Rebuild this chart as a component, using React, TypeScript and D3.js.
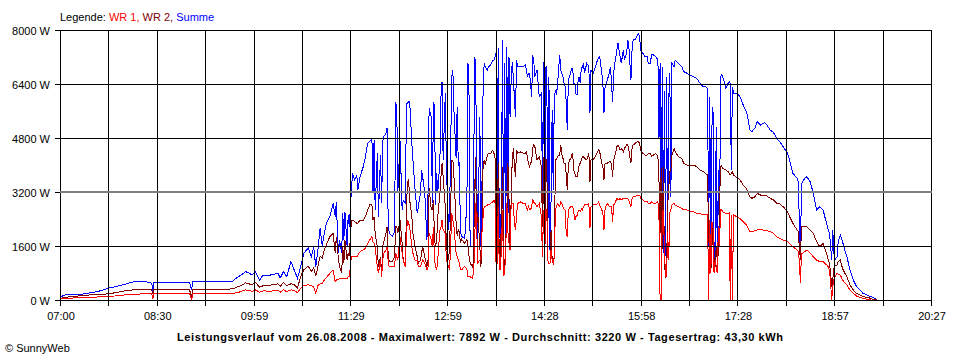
import React from 'react';
import * as d3 from 'd3';

// ---- data ----
const times: string[] = [
  "07:00","07:05","07:20","07:35","07:45","08:00","08:10","08:20","08:25","08:26",
  "08:27","08:45","09:00","09:02","09:03","09:30","09:40","09:45","09:48","09:52",
  "09:55","09:58","10:01","10:05","10:08","10:15","10:22","10:24","10:27","10:30",
  "10:34","10:37","10:40","10:43","10:46","10:50","10:53","10:55","10:57","10:59",
  "11:01","11:03","11:05","11:07","11:10","11:13","11:15","11:16","11:17","11:18",
  "11:19","11:21","11:22","11:23","11:24","11:26","11:27","11:28","11:30","11:31",
  "11:33","11:35","11:36","11:38","11:41","11:43","11:45","11:47","11:49","11:50",
  "11:51","11:52","11:54","11:55","11:57","11:58","11:59","12:00","12:02","12:03",
  "12:04","12:05","12:08","12:10","12:11","12:12","12:13","12:15","12:17","12:18",
  "12:20","12:21","12:22","12:23","12:24","12:26","12:27","12:29","12:31","12:32",
  "12:34","12:35","12:36","12:38","12:40","12:41","12:42","12:44","12:45","12:46",
  "12:47","12:48","12:49","12:50","12:52","12:53","12:54","12:55","12:57","12:58",
  "13:00","13:01","13:03","13:04","13:05","13:07","13:08","13:09","13:10","13:11",
  "13:12","13:15","13:17","13:18","13:19","13:20","13:22","13:23","13:24","13:25",
  "13:26","13:27","13:29","13:30","13:31","13:32","13:33","13:34","13:36","13:37",
  "13:39","13:41","13:42","13:43","13:44","13:45","13:46","13:47","13:48","13:49",
  "13:50","13:51","13:52","13:53","13:54","13:55","13:56","13:57","13:58","13:59",
  "14:00","14:01","14:02","14:03","14:04","14:07","14:09","14:11","14:12","14:13",
  "14:14","14:15","14:16","14:17","14:18","14:19","14:20","14:22","14:24","14:26",
  "14:27","14:28","14:29","14:30","14:31","14:32","14:33","14:34","14:35","14:36",
  "14:37","14:38","14:39","14:40","14:41","14:43","14:44","14:45","14:46","14:47",
  "14:48","14:49","14:50","14:51","14:52","14:53","14:54","14:55","14:56","14:57",
  "14:58","14:59","15:00","15:01","15:02","15:03","15:04","15:05","15:06","15:08",
  "15:10","15:11","15:12","15:14","15:16","15:18","15:19","15:20","15:22","15:23",
  "15:24","15:25","15:27","15:29","15:30","15:31","15:32","15:33","15:34","15:36",
  "15:37","15:39","15:40","15:42","15:43","15:45","15:46","15:47","15:49","15:50",
  "15:51","15:53","15:55","15:56","15:57","15:58","16:00","16:02","16:04","16:05",
  "16:07","16:08","16:10","16:12","16:14","16:15","16:16","16:17","16:18","16:19",
  "16:20","16:21","16:22","16:23","16:24","16:25","16:26","16:27","16:29","16:30",
  "16:33","16:36","16:38","16:41","16:44","16:47","16:50","16:53","16:56","16:58",
  "17:00","17:01","17:02","17:03","17:04","17:05","17:06","17:07","17:08","17:09",
  "17:10","17:11","17:12","17:13","17:14","17:17","17:19","17:20","17:21","17:22",
  "17:23","17:24","17:27","17:30","17:33","17:36","17:38","17:39","17:41","17:44",
  "17:46","17:49","17:51","17:53","17:55","17:58","18:01","18:04","18:07","18:10",
  "18:14","18:16","18:19","18:23","18:24","18:25","18:26","18:27","18:28","18:30",
  "18:32","18:35","18:38","18:41","18:44","18:47","18:50","18:51","18:53","18:54",
  "18:55","18:56","18:57","18:58","19:00","19:01","19:03","19:05","19:07","19:09",
  "19:12","19:15","19:18","19:21","19:24","19:28","19:31","19:33","19:37"
];

// WR 1 (red)
const wr1: number[] = [
  30,50,70,90,100,150,170,190,200,20,
  180,180,180,20,190,200,200,220,260,300,
  280,260,300,230,270,260,290,230,300,250,
  300,280,220,350,430,450,420,400,210,430,
  480,500,600,670,790,889,543,593,593,593,
  640,640,640,640,640,640,691,691,1284,1284,
  1284,1284,1330,1432,1481,1530,1679,1778,1877,1728,
  1679,1580,988,790,1185,691,1185,1383,1481,1580,
  1185,988,988,988,1383,1284,1185,1877,1383,1185,
  988,1975,2370,2272,2173,1580,1383,1185,1185,988,
  988,1086,1185,1086,889,988,1975,1778,1580,2173,
  1185,988,889,1185,2074,2173,2370,2074,1975,1185,
  988,889,2568,2370,2173,1400,1300,1200,1100,890,
  890,1000,900,690,690,690,640,800,1300,2860,
  2200,1100,1180,1200,2000,2470,2765,2765,2815,2815,
  2860,2910,2960,2960,1100,1090,2770,890,890,1500,
  2670,700,800,1500,2860,2000,1680,1480,2860,2860,
  2860,2300,2070,2500,2860,2910,2860,2860,2760,2670,
  2770,2670,2670,2770,2960,2900,2860,2770,2860,2470,
  1280,2670,1090,2670,2670,1180,1090,1090,1480,1180,
  1090,1280,2670,2770,2860,2770,2910,2860,2770,2700,
  2670,2000,1875,2670,2700,2770,2770,2770,2600,2370,
  2470,2500,2600,2670,2620,2700,2670,2770,2815,2815,
  2860,2120,2765,2815,2815,2860,2910,2815,2670,2570,
  2074,2700,2865,2765,2765,2765,2320,2815,2860,3012,
  2960,3012,2963,3012,3012,3012,3012,2960,2765,3012,
  3062,3062,3111,3111,3111,3012,2963,2914,2914,2864,
  2864,2914,2864,2864,2914,2370,0,0,2600,2667,
  1500,700,691,2000,1185,2600,2667,2815,2864,2815,
  2765,2716,2667,2667,2617,2617,2568,2568,2519,2519,
  2519,0,2370,790,2321,2173,790,1185,988,790,
  2173,1580,2667,2667,2617,2568,2545,2568,0,2519,
  0,2519,2469,2420,2321,2222,2100,2025,2025,2050,
  2074,2094,2074,2074,2050,2025,1975,1877,1827,1778,
  1728,1679,1580,1481,1432,1185,494,1383,1383,1432,
  1481,1383,1284,1185,1136,1136,1050,1037,889,494,
  0,395,593,691,790,760,741,593,520,444,
  296,198,119,79,49,20,0,0,0
];

// WR 2 (dark red)
const wr2: number[] = [
  50,80,130,170,180,270,310,310,300,200,
  300,300,300,100,310,310,330,400,430,510,
  480,450,520,380,420,440,480,400,520,430,
  480,450,350,700,900,1000,850,950,700,1000,
  1300,1250,1500,1650,1877,1975,1383,1877,1580,1185,
  988,790,1580,1086,1778,1185,1383,1300,2370,2370,
  2320,2272,2272,2370,2370,2469,2667,2815,2815,2370,
  2469,1975,1580,988,1284,790,1580,1728,1975,2173,
  1383,1136,1136,1284,2173,2173,1975,2370,1679,1185,
  988,2765,3506,3556,2963,2469,1975,1580,1284,1086,
  1185,1383,1580,1284,988,1185,3308,2667,2667,2963,
  1778,1580,1778,2469,3160,3654,4049,3654,2765,1580,
  1185,1580,4148,4148,3654,2300,1900,2100,2000,1680,
  1800,1680,1800,1600,1300,1100,990,1100,2870,4250,
  2100,2600,1580,990,2100,4000,4150,4000,4300,4350,
  4350,4440,4350,4350,1280,1180,4050,1090,1090,2500,
  3950,1280,890,1900,2070,4050,3000,1480,3000,4150,
  4490,4000,3650,4440,4350,4390,4350,4350,4390,4250,
  4050,3950,4050,4100,4500,4590,4540,4150,4250,3950,
  2170,4250,1180,4150,4150,1180,1090,1090,2070,1180,
  1190,1280,4150,4150,4250,4300,4590,4300,4200,4050,
  4050,3750,3250,4000,4150,4150,4300,4340,3850,3750,
  3650,3650,3800,4000,4050,4150,4250,4250,4200,4150,
  4350,3500,4150,4150,4250,4400,4450,4400,4050,3950,
  3556,4050,4050,4100,4100,4000,3650,4150,4250,4544,
  4593,4444,4494,4395,4494,4593,4593,4444,4049,4494,
  4593,4642,4692,4692,4642,4444,4346,4296,4296,4346,
  4346,4247,4296,4346,4247,3506,2000,3900,1500,3951,
  1200,650,889,2800,3300,3800,3852,4300,4494,4395,
  4247,4198,4049,4000,4000,4000,3951,3852,3802,3753,
  3704,1680,2370,790,1580,2173,1185,988,1580,1185,
  1383,2765,3951,3970,3901,3852,3803,3753,3704,3753,
  3803,3704,3634,3556,3407,3308,3150,3062,3012,3062,
  3160,3111,3111,3111,3080,3012,2964,2864,2844,2765,
  2617,2469,2272,2074,2025,1580,1185,2173,2173,2173,
  2173,2074,1975,1728,1580,1679,1400,1284,1086,790,
  395,600,938,1037,1037,1136,1185,938,800,691,
  444,296,198,148,99,79,49,20,0
];

// Summe (blue)
const summe: number[] = [
  90,150,170,250,350,460,560,540,500,275,
  520,525,525,296,540,540,560,690,740,840,
  800,740,840,590,740,740,790,650,840,690,
  1135,890,650,985,1390,1540,1280,1580,985,1480,
  2130,1600,2000,2290,2469,2864,2469,2914,2074,1383,
  1778,1383,2568,1778,2617,1580,2519,2173,3259,3753,
  3556,3704,3259,3654,3951,4247,4642,4691,4790,3160,
  4741,2667,4346,2469,4296,2864,4691,4840,4938,5087,
  2469,1975,1877,2025,5827,5778,3160,4741,2667,2963,
  2864,5827,5827,5876,5876,4642,4148,3259,2568,2765,
  3160,3852,3654,3160,1778,3160,5679,5432,2864,5876,
  5728,2815,3753,3160,4148,6025,6469,4148,6124,3951,
  2074,2667,6617,6815,5630,4200,5730,4000,4060,2070,
  1880,1830,2870,7010,6025,1580,1580,1580,7160,7110,
  4050,1580,5430,1580,3500,6220,7010,6900,6815,6900,
  6960,7110,7110,7200,7310,2070,7460,2000,1780,3000,
  7700,1680,7010,1680,7500,2100,7210,5430,6500,7060,
  6620,6000,5430,7110,6910,6910,6910,6960,6860,6620,
  6700,6720,6400,6025,7260,7060,6620,6815,6025,6120,
  3260,7060,1690,6900,6910,1680,6620,1480,3000,5630,
  3260,6000,6220,6074,6400,7260,6800,6700,6618,6420,
  6321,5900,5040,6519,6618,6716,6864,6864,6420,6420,
  6100,6074,6470,6618,6420,6864,6900,7013,6716,7013,
  6914,5530,6815,6716,6914,7111,7161,7210,6716,6420,
  5530,6321,6519,6716,6914,6420,5876,6716,7013,7408,
  7605,7210,7013,7408,7111,7309,7704,7556,6519,7408,
  7704,7704,7852,7892,7803,7408,7309,7210,7210,7013,
  7013,7260,7260,7210,7111,4800,7013,1500,6900,1400,
  6200,1300,6618,1500,5900,6716,3060,7013,6914,7111,
  7013,6914,6766,6716,6667,6618,6568,6420,6321,6321,
  6272,1580,6025,988,5136,5728,1580,1185,5136,1086,
  3852,1580,6617,6667,6617,6272,6420,6469,6420,3852,
  6321,6124,6124,6025,5778,5580,5300,5037,4988,5100,
  5284,5185,5235,5254,5185,5037,4964,4790,4691,4543,
  4346,4148,3753,3605,3506,2370,1284,3407,3506,3605,
  3654,3506,3160,2667,2765,2667,2300,2173,1975,1580,
  1185,2074,1383,1185,1284,1728,1926,1728,1500,1284,
  889,593,395,296,198,148,99,79,20
];

const seriesNames = ["WR 1", "WR 2", "Summe"];
const seriesColors = ["#ff0000", "#800000", "#0000ff"];
const yTicks = [0, 1600, 3200, 4800, 6400, 8000];
const xTickLabels = ["07:00","08:30","09:59","11:29","12:59","14:28","15:58","17:28","18:57","20:27"];
const xStart = "07:00";
const xEnd = "20:27";
const yMax = 8000;
const averageValue = 3220;
const legendTitle = "Legende:";
const chartTitle = "Leistungsverlauf vom 26.08.2008 - Maximalwert: 7892 W - Durchschnitt: 3220 W - Tagesertrag: 43,30 kWh";
const creditText = "\u00A9 SunnyWeb";

const toMin = (s: string) => {
  const [h, m] = s.split(":").map(Number);
  return h * 60 + m;
};

export default function App() {
  const W = 960, H = 360;
  const left = 60, right = 931, top = 30, bottom = 300;
  const font = "'Liberation Sans', Arial, sans-serif";

  const x = d3.scaleLinear().domain([toMin(xStart), toMin(xEnd)]).range([left, right]);
  const y = d3.scaleLinear().domain([0, yMax]).range([bottom, top]);
  const tMin = times.map(toMin);

  const mkLine = (vals: number[]) =>
    d3.line<number>()
      .x((_, i) => x(tMin[i]))
      .y((d) => y(d))(vals) ?? "";

  const [d0, d1] = x.domain();
  const nGrid = (xTickLabels.length - 1) * 2;
  const gridX = d3.range(nGrid + 1).map((i) => d0 + (i * (d1 - d0)) / nGrid);
  const px = (v: number) => Math.round(v) + 0.5;
  const yAvg = Math.round(y(averageValue)) + 1;

  const seriesData = [wr1, wr2, summe];
  const drawOrder = [2, 1, 0];

  return (
    <svg
      width={W}
      height={H}
      style={{ position: "absolute", left: 0, top: 0, display: "block", background: "#fff" }}
      fontFamily={font}
      fontSize={11}
    >
      <rect x={0} y={0} width={W} height={H} fill="#fff" />

      {/* data lines */}
      <g fill="none" strokeWidth={1} shapeRendering="crispEdges">
        {drawOrder.map((k) => (
          <path key={k} d={mkLine(seriesData[k])} stroke={seriesColors[k]} />
        ))}
      </g>

      {/* grid */}
      <g stroke="#000" strokeWidth={1} shapeRendering="crispEdges">
        {gridX.map((t, i) => (
          <line key={"v" + i} x1={px(x(t))} x2={px(x(t))} y1={px(y(yMax))} y2={px(y(0)) + 5} />
        ))}
        {yTicks.map((v) => (
          <line key={"h" + v} x1={left - 5} x2={px(x(d1))} y1={px(y(v))} y2={px(y(v))} />
        ))}
      </g>

      {/* average line */}
      <line
        x1={Math.round(x(d0))}
        x2={Math.round(x(d1)) + 1}
        y1={yAvg}
        y2={yAvg}
        stroke="#808080"
        strokeWidth={2}
        shapeRendering="crispEdges"
      />

      {/* y labels */}
      <g textAnchor="end" fill="#000">
        {yTicks.map((v) => (
          <text key={v} x={50} y={px(y(v)) + 4}>{`${v} W`}</text>
        ))}
      </g>

      {/* x labels */}
      <g textAnchor="middle" fill="#000">
        {xTickLabels.map((lab, i) => (
          <text key={lab} x={x(gridX[i * 2]) + 1} y={320}>{lab}</text>
        ))}
      </g>

      {/* legend */}
      <text x={60} y={21} fill="#000">
        <tspan>{legendTitle} </tspan>
        {seriesNames.map((n, i) => (
          <tspan key={n} fill={seriesColors[i]}>
            {n}
            {i < seriesNames.length - 1 ? ", " : ""}
          </tspan>
        ))}
      </text>

      {/* title */}
      <text
        x={480}
        y={341}
        textAnchor="middle"
        fontWeight="bold"
        fill="#000"
        textLength={606}
        lengthAdjust="spacing"
      >
        {chartTitle}
      </text>

      {/* credit */}
      <text x={5} y={352} fill="#000">{creditText}</text>
    </svg>
  );
}
